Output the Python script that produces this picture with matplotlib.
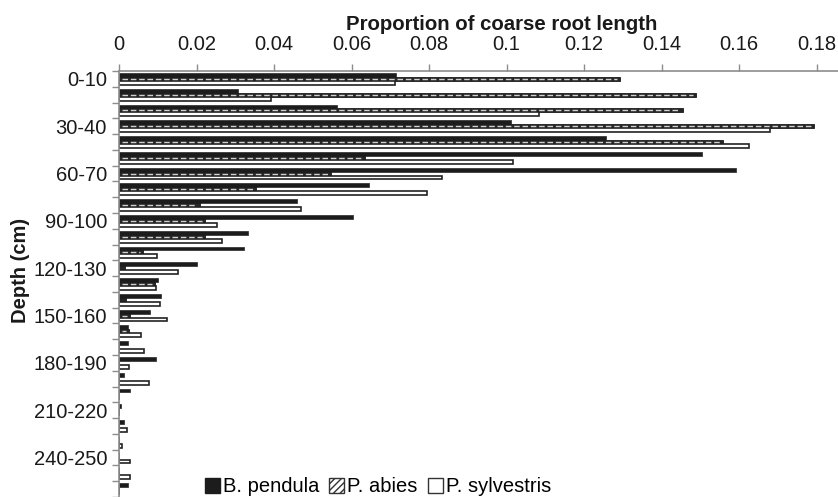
import numpy as np
import matplotlib
matplotlib.use("Agg")
import matplotlib.pyplot as plt
from matplotlib.patches import Patch

plt.rcParams['font.family'] = ['Liberation Sans', 'DejaVu Sans']

depths = ["0-10", "10-20", "20-30", "30-40", "40-50", "50-60", "60-70", "70-80",
          "80-90", "90-100", "100-110", "110-120", "120-130", "130-140", "140-150",
          "150-160", "160-170", "170-180", "180-190", "190-200", "200-210",
          "210-220", "220-230", "230-240", "240-250", "250-260", "260-270"]

b_pendula = [0.0715, 0.0308, 0.0562, 0.1012, 0.1258, 0.1504, 0.1592, 0.0646,
             0.0460, 0.0605, 0.0333, 0.0323, 0.0202, 0.0101, 0.0108, 0.0080,
             0.0022, 0.0022, 0.0095, 0.0014, 0.0028, 0.0005, 0.0013, 0.0,
             0.0, 0.0, 0.0024]
p_abies = [0.1293, 0.1489, 0.1455, 0.1794, 0.1559, 0.0635, 0.0547, 0.0353,
           0.0209, 0.0222, 0.0222, 0.0061, 0.0015, 0.0093, 0.0017, 0.0028,
           0.0026, 0.0, 0.0, 0.0, 0.0, 0.0, 0.0, 0.0, 0.0, 0.0, 0.0]
p_sylvestris = [0.0712, 0.0391, 0.1084, 0.1680, 0.1625, 0.1016, 0.0834, 0.0794,
                0.0470, 0.0254, 0.0265, 0.0099, 0.0152, 0.0095, 0.0106, 0.0123,
                0.0057, 0.0065, 0.0027, 0.0078, 0.0, 0.0, 0.0021, 0.0008,
                0.0028, 0.0028, 0.0]
series_names = ["B. pendula", "P. abies", "P. sylvestris"]
x_ticks = [0, 0.02, 0.04, 0.06, 0.08, 0.1, 0.12, 0.14, 0.16, 0.18]
x_ticklabels = ["0", "0.02", "0.04", "0.06", "0.08", "0.1", "0.12", "0.14", "0.16", "0.18"]

W, H = 838, 497
PX = 72 / 100  # points per pixel at dpi 100
fig = plt.figure(figsize=(W / 100, H / 100), dpi=100)
ax = fig.add_axes([119 / W, 0, 1 - 119 / W, 1 - 71 / H])

y = np.arange(len(depths))
h = 0.25
dark = '#1c1c1c'
txt = '#1a1a1a'
grey = '#8c8c8c'

ax.barh(y - h, b_pendula, height=h, color=dark, edgecolor='#3a3a3a', linewidth=0.6)
ax.barh(y, p_abies, height=h, color='#262626', edgecolor='#1a1a1a', linewidth=0.6)
pa = np.array(p_abies)
mask = pa > 0
ax.hlines(y[mask], 0.0008, pa[mask] - 0.0008, colors='#d0d0d0', linewidth=1.0,
          linestyles=(0, (4, 2)))
ax.barh(y + h, p_sylvestris, height=h, color='white', edgecolor='#222222', linewidth=1.2)

ax.set_xlim(0, (W - 119) / 3875)
ax.set_ylim(26.25, -0.5)

ax.xaxis.tick_top()
ax.set_xticks(x_ticks)
ax.set_xticklabels(x_ticklabels)
ax.tick_params(axis='x', direction='out', length=5, width=1, color=grey,
               labelsize=14.5, pad=10 * PX, labelcolor=txt)

ax.set_yticks(y[::3])
ax.set_yticklabels(depths[::3])
ax.set_yticks(np.arange(-0.5, len(depths), 1), minor=True)
ax.tick_params(axis='y', which='major', length=0, pad=12 * PX, labelsize=14.5, labelcolor=txt)
ax.tick_params(axis='y', which='minor', direction='out', length=5, width=1, color=grey)

for s in ['right', 'bottom']:
    ax.spines[s].set_visible(False)
for s in ['top', 'left']:
    ax.spines[s].set_color(grey)
    ax.spines[s].set_linewidth(1.2)

fig.text(502 / W, 1 - 29.5 / H, "Proportion of coarse root length", ha='center', va='baseline',
         fontsize=14.7, fontweight='bold', color=txt)
fig.text(20 / W, 1 - 270 / H, "Depth (cm)", ha='center', va='center', rotation=90,
         fontsize=14.5, fontweight='bold', color=txt)

handles = [Patch(facecolor=dark, edgecolor=dark),
           Patch(facecolor='white', edgecolor='#333333', hatch='/////'),
           Patch(facecolor='white', edgecolor='#333333')]
fig.legend(handles, series_names, loc='center', bbox_to_anchor=(378 / W, 1 - 487 / H),
           ncol=3, frameon=False, fontsize=14.5, handlelength=0.75, handleheight=0.75,
           handletextpad=0.15, columnspacing=0.5, borderpad=0.1)

fig.savefig("out.png", dpi=100)
